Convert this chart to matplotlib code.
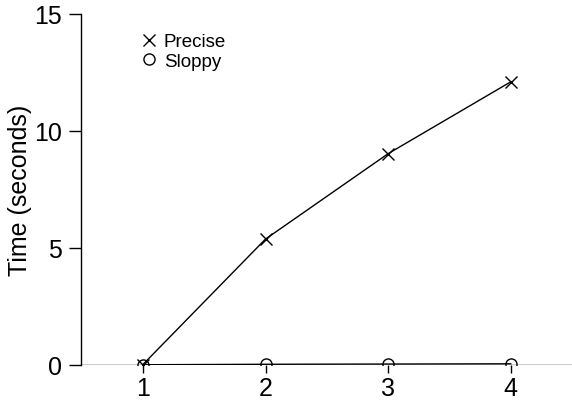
import matplotlib.pyplot as plt

plt.rcParams['font.family'] = ['Liberation Sans', 'DejaVu Sans']

# Data
sizes = [1, 2, 3, 4]
precise = [0.02, 5.38, 9.03, 12.1]
sloppy = [0.01, 0.03, 0.04, 0.05]

fig = plt.figure(figsize=(5.72, 4.02), dpi=100)
ax = fig.add_axes([0.1416, 0.0896, 0.8584, 0.8731])

ax.axhline(0, color='black', lw=1.0, zorder=1)
ax.plot(sizes, precise, color='black', lw=1.0, marker='x', ms=8, mew=1.0,
        label='Precise', zorder=3)
ax.plot(sizes, sloppy, color='black', lw=1.0, marker='o', ms=8, mew=1.0,
        mfc='none', label='Sloppy', zorder=3)

ax.set_xlim(0.495, 4.5)
ax.set_ylim(0, 15)
ax.set_xticks(sizes)
ax.set_yticks([0, 5, 10, 15])

for s in ['top', 'right', 'bottom']:
    ax.spines[s].set_visible(False)
ax.spines['left'].set_linewidth(1.0)

ax.tick_params(axis='both', labelsize=18, width=1.0, direction='out')
ax.tick_params(axis='y', length=9, pad=5)
ax.tick_params(axis='x', length=6, pad=2)
ax.set_ylabel('Time (seconds)', fontsize=18, labelpad=1)

leg = ax.legend(loc='upper left', bbox_to_anchor=(0.104, 0.967), frameon=False,
                fontsize=13.5, handlelength=1.0, handletextpad=0.3,
                labelspacing=0.13, borderaxespad=0)
for h in leg.legend_handles:
    h.set_linestyle('none')

fig.savefig('out.png', dpi=100)
